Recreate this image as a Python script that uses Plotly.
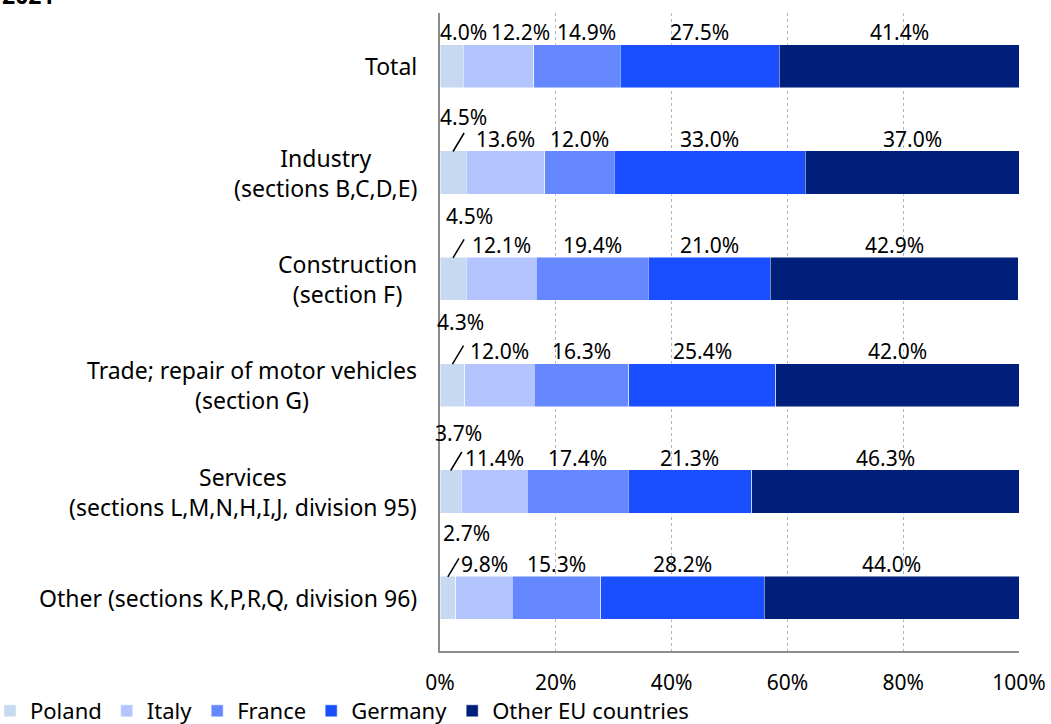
import plotly.graph_objects as go

# ---- data ----
categories = [
    "Total",
    "Industry<br>(sections B,C,D,E)",
    "Construction<br>(section F)",
    "Trade; repair of motor vehicles<br>(section G)",
    "Services<br>(sections L,M,N,H,I,J, division 95)",
    "Other (sections K,P,R,Q, division 96)",
]
series_names = ["Poland", "Italy", "France", "Germany", "Other EU countries"]
poland = [4.0, 4.5, 4.5, 4.3, 3.7, 2.7]
italy = [12.2, 13.6, 12.1, 12.0, 11.4, 9.8]
france = [14.9, 12.0, 19.4, 16.3, 17.4, 15.3]
germany = [27.5, 33.0, 21.0, 25.4, 21.3, 28.2]
other_eu = [41.4, 37.0, 42.9, 42.0, 46.3, 44.0]
x_tick_values = [0, 20, 40, 60, 80, 100]
x_tick_labels = ["0%", "20%", "40%", "60%", "80%", "100%"]
title_text = "2021"

# ---- styling ----
series_values = [poland, italy, france, germany, other_eu]
colors = ["#C6D9F0", "#B3C4FF", "#6688FF", "#1A4FFF", "#001F7A"]
FONT = "Noto Sans"
FS = 21          # value labels / ticks
FS_CAT = 23      # category labels
FS_LEG = 22
W, H = 1051, 724
ML, MR, MT, MB = 440, 32, 13, 73
PW = W - ML - MR
PH = H - MT - MB
HALF_BAR = 21
# small horizontal label nudges (pixels) where labels would collide
label_xshift = {(0, 0): 12, (0, 1): 22, (0, 2): 10}
# leader-line label offsets for small Poland labels (pixels, from bar top): (dx, dy)
leader_label = {1: (10, -35), 2: (16, -42), 3: (8, -42), 4: (8, -38), 5: (19, -44)}
LEADER_VEC = (12, -20)

fig = go.Figure()
for name, vals, col in zip(series_names, series_values, colors):
    fig.add_trace(go.Bar(
        y=categories, x=vals, name=name, orientation="h",
        marker=dict(color=col, line=dict(color="rgba(255,255,255,0.6)", width=0.8)),
        hoverinfo="skip",
    ))

annotations = []
for j, cat in enumerate(categories):
    start = 0.0
    for i, vals in enumerate(series_values):
        v = vals[j]
        center = start + v / 2.0
        start += v
        text = f"{v:.1f}%"
        if i == 0 and j in leader_label:
            dx, dy = leader_label[j]
            # leader line
            annotations.append(dict(
                x=center, y=cat, xref="x", yref="y", text="",
                showarrow=True, arrowhead=0, arrowwidth=1.5, arrowcolor="black",
                ax=LEADER_VEC[0], ay=LEADER_VEC[1], standoff=0, startstandoff=0,
                yshift=HALF_BAR,
            ))
            # label
            annotations.append(dict(
                x=center, y=cat, xref="x", yref="y", text=text,
                showarrow=False, xshift=dx, yshift=HALF_BAR - dy,
                font=dict(family=FONT, size=FS, color="black"),
            ))
        else:
            annotations.append(dict(
                x=center, y=cat, xref="x", yref="y", text=text,
                showarrow=False, yshift=HALF_BAR + 13, xshift=label_xshift.get((j, i), 0),
                font=dict(family=FONT, size=FS, color="black"),
            ))
    annotations.append(dict(
        x=0, y=cat, xref="paper", yref="y", text=cat, showarrow=False,
        xanchor="right", align="center", xshift=-21,
        font=dict(family=FONT, size=FS_CAT, color="black"),
    ))

annotations.append(dict(
    x=-ML / PW, y=1, xref="paper", yref="paper", text=f"<b>{title_text}</b>",
    showarrow=False, xanchor="left", yanchor="bottom", yshift=0,
    font=dict(family=FONT, size=FS_CAT, color="black"),
))

fig.update_layout(
    width=W, height=H,
    margin=dict(l=ML, r=MR, t=MT, b=MB, autoexpand=False),
    barmode="stack", bargap=0.595,
    plot_bgcolor="white", paper_bgcolor="white",
    font=dict(family=FONT, size=FS, color="black"),
    showlegend=True,
    legend=dict(
        orientation="h", traceorder="normal",
        x=-(ML + 10) / PW, y=-39 / PH, xanchor="left", yanchor="top",
        font=dict(family=FONT, size=FS_LEG, color="black"),
        itemwidth=30, tracegroupgap=0, bgcolor="rgba(0,0,0,0)",
    ),
    annotations=annotations,
    xaxis=dict(
        range=[0, 100], tickvals=x_tick_values, ticktext=x_tick_labels,
        showgrid=True, gridcolor="rgb(170,180,205)", griddash="dot", gridwidth=1,
        showline=True, linecolor="#8c8c8c", linewidth=2,
        ticks="", zeroline=False, fixedrange=True,
        tickfont=dict(family=FONT, size=FS, color="black"),
        ticklabelstandoff=12,
    ),
    yaxis=dict(
        showticklabels=False, autorange=False,
        range=[len(categories) - 0.5, -0.5],
        showline=True, linecolor="#8c8c8c", linewidth=2,
        showgrid=False, ticks="", zeroline=False, fixedrange=True,
    ),
)

fig.write_html("out.html", config={"displayModeBar": False},
               post_script="document.body.style.margin='0';")
